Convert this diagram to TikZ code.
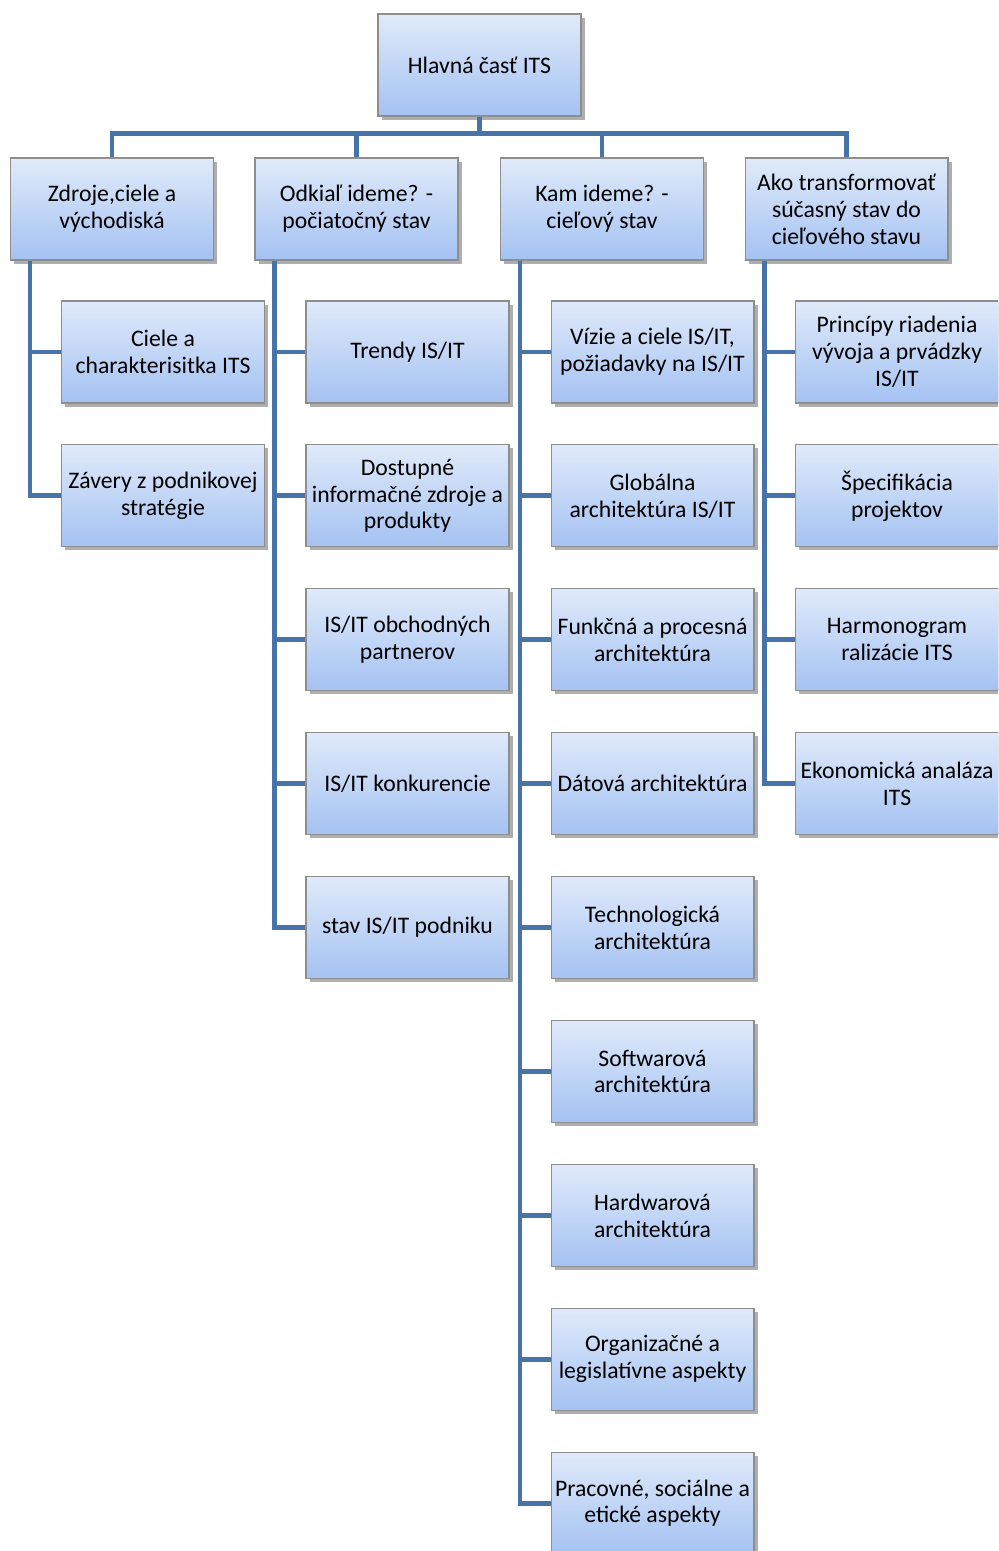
\documentclass[tikz,border=0pt]{standalone}
\usepackage{fontspec}
\setmainfont{Carlito}
\usetikzlibrary{shadows}
\definecolor{linka}{HTML}{4673A8}
\definecolor{okraj}{HTML}{8E8E8E}
\definecolor{hore}{HTML}{E0EAFA}
\definecolor{dole}{HTML}{A4C2F2}
\tikzset{
  box/.style={draw=okraj,line width=0.6pt,top color=hore,bottom color=dole,
    minimum width=4.06cm,minimum height=2.04cm,inner sep=1pt,align=center,
    font=\fontsize{13.5}{15.3}\selectfont,
    drop shadow={shadow xshift=2pt,shadow yshift=-2pt,opacity=0.45,fill=black!70}},
  spoj/.style={linka,line width=2.8pt},
}
\begin{document}
\begin{tikzpicture}[x=0.02cm,y=-0.02cm]
  \clip (0,0) rectangle (998,1551);
  % hlavny uzol
  \node[box] (hlavna) at (479.5,65) {Hlavná časť ITS};
  % prva uroven
  \node[box] (zdroje) at (112,209) {Zdroje,ciele a\\východiská};
  \node[box] (odkial) at (356.5,209) {Odkiaľ ideme? -\\počiatočný stav};
  \node[box] (kam) at (602,209) {Kam ideme? -\\cieľový stav};
  \node[box] (ako) at (846.5,209) {Ako transformovať\\súčasný stav do\\cieľového stavu};
  \foreach \n in {zdroje,odkial,kam,ako}
    \draw[spoj] (hlavna.south) -- ++(0,17) -| (\n.north);
  % druha uroven
  \foreach \t [count=\i] in {{Ciele a\\charakterisitka ITS},{Závery z podnikovej\\stratégie}}
    \node[box] (zd-\i) at (163,{352+143.9*(\i-1)}) {\t};
  \foreach \t [count=\i] in {{Trendy IS/IT},{Dostupné\\informačné zdroje a\\produkty},
      {IS/IT obchodných\\partnerov},{IS/IT konkurencie},{stav IS/IT podniku}}
    \node[box] (od-\i) at (407.5,{352+143.9*(\i-1)}) {\t};
  \foreach \t [count=\i] in {{Vízie a ciele IS/IT,\\požiadavky na IS/IT},{Globálna\\architektúra IS/IT},
      {Funkčná a procesná\\architektúra},{Dátová architektúra},{Technologická\\architektúra},
      {Softwarová\\architektúra},{Hardwarová\\architektúra},{Organizačné a\\legislatívne aspekty},
      {Pracovné, sociálne a\\etické aspekty}}
    \node[box] (ka-\i) at (652.5,{352+143.9*(\i-1)}) {\t};
  \foreach \t [count=\i] in {{Princípy riadenia\\vývoja a prvádzky\\IS/IT},{Špecifikácia\\projektov},
      {Harmonogram\\ralizácie ITS},{Ekonomická analáza\\ITS}}
    \node[box] (ak-\i) at (897,{352+143.9*(\i-1)}) {\t};
  % spoje
  \foreach \i in {1,2}
    \draw[spoj] ([xshift=0.4cm]zdroje.south west) |- (zd-\i.west);
  \foreach \i in {1,...,5}
    \draw[spoj] ([xshift=0.4cm]odkial.south west) |- (od-\i.west);
  \foreach \i in {1,...,9}
    \draw[spoj] ([xshift=0.4cm]kam.south west) |- (ka-\i.west);
  \foreach \i in {1,...,4}
    \draw[spoj] ([xshift=0.4cm]ako.south west) |- (ak-\i.west);
\end{tikzpicture}
\end{document}
